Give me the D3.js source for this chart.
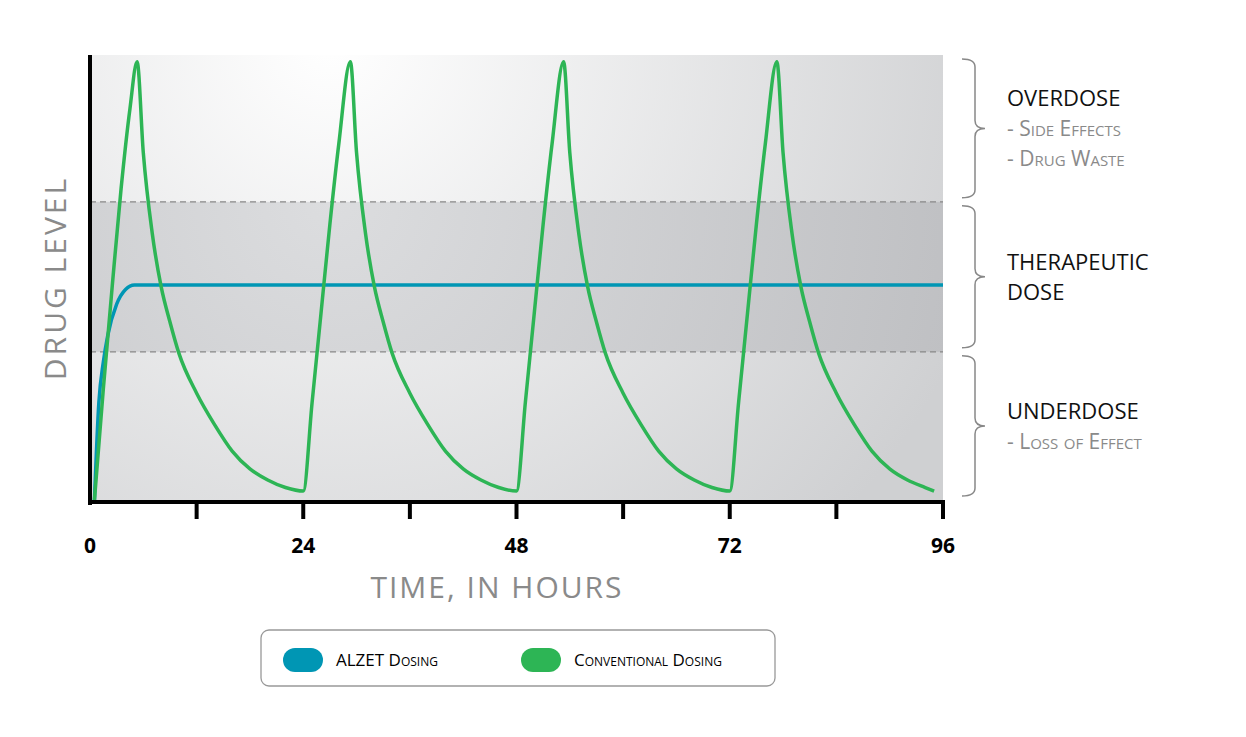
<!DOCTYPE html>
<html><head><meta charset="utf-8">
<script src="https://cdn.jsdelivr.net/npm/d3@7"></script>
<style>body{margin:0;background:#fff}text{font-family:"Open Sans",sans-serif}</style>
</head><body><svg id="chart" width="1246" height="737"></svg>
<script>
// values (hours, drug level 0..100)
var xTicks = [0, 24, 48, 72, 96];
var minorTicks = [12, 36, 60, 84];
var bands = [33.3, 67];
var alzet = [[0.5,0],[1,22],[1.5,31],[2,37],[3,44],[4,47.3],[5,48.3],[6,48.3],[96,48.3]];
var conventional = [
  [0.5,0],[1.5,25],[2.5,48],[3.5,70],[4.5,88],[5.3,98.5],
  [6,78],[7,60],[8,48],[9,40],[10,33],[12,24],[14,17],[16,11],[18,7],[20,4.5],[22,2.8],[24,2],
  [25,22],[26,42],[27,62],[28,80],[29.3,98.5],
  [30,78],[31,60],[32,48],[33,40],[34,33],[36,24],[38,17],[40,11],[42,7],[44,4.5],[46,2.8],[48,2],
  [49,22],[50,42],[51,62],[52,80],[53.3,98.5],
  [54,78],[55,60],[56,48],[57,40],[58,33],[60,24],[62,17],[64,11],[66,7],[68,4.5],[70,2.8],[72,2],
  [73,22],[74,42],[75,62],[76,80],[77.3,98.5],
  [78,78],[79,60],[80,48],[81,40],[82,33],[84,24],[86,17],[88,11],[90,7],[92,4.5],[94,2.8],[95,2]
];
var zones = [
  {top:100, bottom:67, lines:["OVERDOSE","- Side Effects","- Drug Waste"]},
  {top:67, bottom:33.3, lines:["THERAPEUTIC","DOSE"]},
  {top:33.3, bottom:0, lines:["UNDERDOSE","- Loss of Effect"]}
];
var legendItems = [{name:"ALZET Dosing", color:"#0096b4"}, {name:"Conventional Dosing", color:"#2db555"}];

var svg = d3.select('#chart');
var x = d3.scaleLinear().domain([0,96]).range([90,943]);
var y = d3.scaleLinear().domain([0,100]).range([500,55]);

var defs = svg.append('defs');
var rg = defs.append('radialGradient').attr('id','bg').attr('gradientUnits','userSpaceOnUse')
  .attr('cx',330).attr('cy',40).attr('r',700);
rg.append('stop').attr('offset',0).attr('stop-color','#ffffff');
rg.append('stop').attr('offset',1).attr('stop-color','#cfd0d2');
var rg2 = defs.append('radialGradient').attr('id','mid').attr('gradientUnits','userSpaceOnUse')
  .attr('cx',330).attr('cy',200).attr('r',700);
rg2.append('stop').attr('offset',0).attr('stop-color','#dcdddf');
rg2.append('stop').attr('offset',1).attr('stop-color','#bcbdc0');

svg.append('rect').attr('x',x(0)).attr('y',y(100)).attr('width',x(96)-x(0)).attr('height',y(0)-y(100)).attr('fill','url(#bg)');
svg.append('rect').attr('x',x(0)).attr('y',y(bands[1])).attr('width',x(96)-x(0)).attr('height',y(bands[0])-y(bands[1])).attr('fill','url(#mid)');
svg.selectAll('.band').data(bands).enter().append('line')
  .attr('x1',x(0)).attr('x2',x(96)).attr('y1',d=>y(d)).attr('y2',d=>y(d))
  .attr('stroke','#888').attr('stroke-dasharray','6,4').attr('stroke-width',1.2);

var line = d3.line().x(d=>x(d[0])).y(d=>y(d[1])).curve(d3.curveMonotoneX);
svg.append('path').datum(alzet).attr('d',line).attr('fill','none').attr('stroke','#0096b4').attr('stroke-width',3.5);
svg.append('path').datum(conventional).attr('d',line).attr('fill','none').attr('stroke','#2db555').attr('stroke-width',3.5);

// axes
svg.append('line').attr('x1',x(0)).attr('x2',x(0)).attr('y1',y(100)).attr('y2',y(0)+5).attr('stroke','#000').attr('stroke-width',4);
svg.append('line').attr('x1',x(0)-2).attr('x2',x(96)).attr('y1',y(0)+2).attr('y2',y(0)+2).attr('stroke','#000').attr('stroke-width',4);
svg.selectAll('.tk').data(xTicks.concat(minorTicks).filter(d=>d>0)).enter().append('line')
  .attr('x1',d=>x(d)).attr('x2',d=>x(d)).attr('y1',y(0)).attr('y2',y(0)+19).attr('stroke','#000').attr('stroke-width',4);
svg.selectAll('.tl').data(xTicks).enter().append('text')
  .attr('x',d=>x(d)).attr('y',553).attr('text-anchor','middle').attr('font-size',21).attr('font-weight','bold').text(d=>d);
svg.append('text').attr('x',497).attr('y',598).attr('text-anchor','middle').attr('font-size',30).attr('fill','#8a8a8a')
  .attr('letter-spacing',2).text('TIME, IN HOURS');
svg.append('text').attr('transform','translate(66,278) rotate(-90)').attr('text-anchor','middle').attr('font-size',30)
  .attr('fill','#8a8a8a').attr('letter-spacing',3).text('DRUG LEVEL');

// braces and zone labels
zones.forEach(function(z){
  var t = y(z.top)+4, b = y(z.bottom)-4, m = (t+b)/2;
  svg.append('path').attr('d',`M962,${t} Q975,${t} 975,${t+8} L975,${m-8} Q975,${m} 985,${m} Q975,${m} 975,${m+8} L975,${b-8} Q975,${b} 962,${b}`)
    .attr('fill','none').attr('stroke','#888').attr('stroke-width',1.5);
  z.lines.forEach(function(l,i){
    var first = i===0 || z.lines[0]==="THERAPEUTIC";
    svg.append('text').attr('x',1007).attr('y',m - (z.lines.length-1)*15 + i*30 + 8)
      .attr('font-size',first?22:21).attr('fill',first?'#111':'#8a8a8a')
      .style('font-variant',first?'normal':'small-caps').text(l);
  });
});

// legend
svg.append('rect').attr('x',261).attr('y',630).attr('width',514).attr('height',56).attr('rx',8)
  .attr('fill','#fff').attr('stroke','#999').attr('stroke-width',1.3);
var lx = [283, 521];
legendItems.forEach(function(d,i){
  svg.append('rect').attr('x',lx[i]).attr('y',648).attr('width',40).attr('height',24).attr('rx',12).attr('fill',d.color);
  svg.append('text').attr('x',lx[i]+53).attr('y',666).attr('font-size',17).style('font-variant','small-caps').text(d.name);
});
</script></body></html>
